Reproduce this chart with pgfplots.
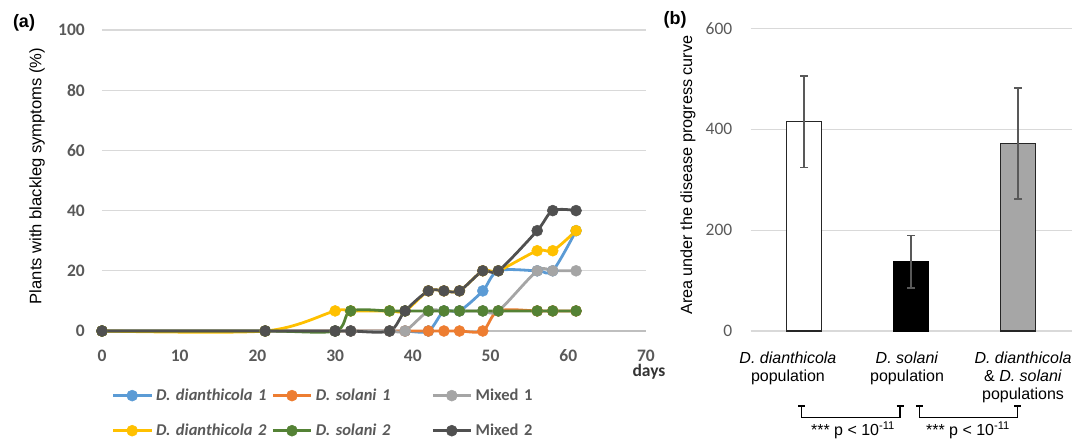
\documentclass[border=0pt]{standalone}
\usepackage{fontspec}
\setmainfont{Liberation Sans}
\newfontfamily\calibri{Carlito}
\usepackage{pgfplots}
\usepackage{pgfplotstable}
\pgfplotsset{compat=1.18}

\definecolor{cblue}{HTML}{5B9BD5}
\definecolor{corange}{HTML}{ED7D31}
\definecolor{cgray}{HTML}{A5A5A5}
\definecolor{cyellow}{HTML}{FFC000}
\definecolor{cgreen}{HTML}{548235}
\definecolor{cdark}{HTML}{505050}
\definecolor{ticktxt}{HTML}{595959}
\definecolor{gridc}{HTML}{D9D9D9}
\definecolor{zeroline}{HTML}{BFBFBF}
\definecolor{barg}{HTML}{A6A6A6}

\pgfplotstableread{
day dd1   ds1  m1    dd2   ds2  m2
0   0     0    0     0     0    0
21  0     0    0     0     0    0
30  0     0    0     6.67  0    0
32  0     0    0     6.67  6.67 0
37  0     0    0     6.67  6.67 0
39  0     0    0     6.67  6.67 6.67
42  0     0    6.67  13.33 6.67 13.33
44  6.67  0    6.67  13.33 6.67 13.33
46  6.67  0    6.67  13.33 6.67 13.33
49  13.33 0    6.67  20    6.67 20
51  20    6.67 6.67  20    6.67 20
56  20    6.67 20    26.67 6.67 33.33
58  20    6.67 20    26.67 6.67 40
61  33.33 6.67 20    33.33 6.67 40
}\curves

\pgfplotstableread{
x  y   err
0  415 91
}\aucA
\pgfplotstableread{
x  y   err
1  137 52
}\aucB
\pgfplotstableread{
x  y   err
2  372 110
}\aucC

\pgfplotsset{
  curve/.style={smooth, color=#1, line width=2.8pt, mark=*, mark size=5.5pt,
    mark options={line width=0.5pt, fill=#1, draw=#1}},
}
\tikzset{catlab/.style={anchor=north, align=center, inner sep=0pt, yshift=-20.3pt,
    font=\fontsize{16}{18.4}\selectfont}}

\begin{document}
\begin{tikzpicture}
\path[use as bounding box] (0pt,0pt) rectangle (1074pt,444pt);

% ---------------- panel (a)
\begin{axis}[
  at={(102pt,113pt)}, anchor=south west,
  scale only axis, width=544pt, height=301pt,
  xmin=0, xmax=70, ymin=0, ymax=100,
  xtick={0,10,...,70}, ytick={0,20,...,100},
  major tick length=0pt,
  axis line style={draw=none},
  ymajorgrids, grid style={color=gridc, line width=1.3pt},
  clip=false,
  /pgf/number format/assume math mode=true,
  xticklabel style={font=\calibri\bfseries\fontsize{17.5}{20}\selectfont, text=ticktxt, anchor=north, inner sep=0pt, yshift=-18.5pt},
  yticklabel style={font=\calibri\bfseries\fontsize{17.5}{20}\selectfont, text=ticktxt, anchor=east, inner sep=0pt, xshift=-17pt},
  ylabel={Plants with blackleg symptoms (\%)},
  ylabel style={at={(axis description cs:-0.1195,0.515)}, anchor=center, font=\fontsize{16.6}{19}\selectfont},
  legend columns=3,
  legend cell align=left,
  legend image code/.code={\draw[mark repeat=2, mark phase=2, #1] plot coordinates {(0pt,0pt) (19pt,0pt) (38pt,0pt)};},
  legend style={at={(axis description cs:0.018,-0.193)}, anchor=north west,
    draw=none, fill=none, inner sep=0pt, outer sep=0pt, row sep=22pt,
    font=\calibri\bfseries\fontsize{16.5}{20}\selectfont, text=ticktxt,
    nodes={inner sep=0pt, text width=112pt, align=left},
    /tikz/every odd column/.append style={column sep=3.5pt},
    /tikz/every even column/.append style={column sep=3.5pt}},
]
\draw[color=zeroline, line width=1.3pt] (axis cs:0,0) -- (axis cs:70,0);
\addplot[curve=cblue]   table[x=day, y=dd1] {\curves};
\addlegendentry{\mbox{\textit{D. dianthicola 1}}}
\addplot[curve=corange] table[x=day, y=ds1] {\curves};
\addlegendentry{\mbox{\textit{D. solani 1}}}
\addplot[curve=cgray]   table[x=day, y=m1]  {\curves};
\addlegendentry{\mbox{Mixed 1}}
\addplot[curve=cyellow] table[x=day, y=dd2] {\curves};
\addlegendentry{\mbox{\textit{D. dianthicola 2}}}
\addplot[curve=cgreen]  table[x=day, y=ds2] {\curves};
\addlegendentry{\mbox{\textit{D. solani 2}}}
\addplot[curve=cdark]   table[x=day, y=m2]  {\curves};
\addlegendentry{\mbox{Mixed 2}}
\end{axis}

% ---------------- panel (b)
\begin{axis}[
  at={(750.5pt,113pt)}, anchor=south west,
  scale only axis, width=321pt, height=302.5pt,
  xmin=-0.5, xmax=2.5, ymin=0, ymax=600,
  xtick=\empty, ytick={0,200,400,600},
  major tick length=0pt,
  axis line style={draw=none},
  ymajorgrids, grid style={color=gridc, line width=1.3pt},
  clip=false,
  /pgf/number format/assume math mode=true,
  yticklabel style={font=\calibri\fontsize{17.5}{20}\selectfont, text=ticktxt, anchor=east, inner sep=0pt, xshift=-18pt},
  ylabel={Area under the disease progress curve},
  ylabel style={at={(axis description cs:-0.1947,0.515)}, anchor=center, font=\fontsize{16.2}{19}\selectfont},
  bar width=35pt,
  errstyle/.style={error bars/.cd, y dir=both, y explicit,
    error bar style={color=ticktxt, line width=1.5pt},
    error mark options={rotate=90, mark size=4pt, line width=1.5pt, color=ticktxt}},
]
\addplot[ybar, bar shift=0pt, fill=white, draw=black!85, line width=1.4pt, errstyle]
  table[x=x, y=y, y error=err] {\aucA};
\addplot[ybar, bar shift=0pt, fill=black, draw=black, line width=1.4pt, errstyle]
  table[x=x, y=y, y error=err] {\aucB};
\addplot[ybar, bar shift=0pt, fill=barg, draw=black!85, line width=1.4pt, errstyle]
  table[x=x, y=y, y error=err] {\aucC};
\node[catlab] at (axis cs:-0.15,0) {\textit{D. dianthicola}\\population};
\node[catlab] at (axis cs:0.963,0) {\textit{D. solani}\\population};
\node[catlab] at (axis cs:2.047,0) {\textit{D. dianthicola}\\\& \textit{D. solani}\\populations};
\end{axis}

% panel letters and annotations
\node[font=\bfseries\fontsize{18}{20}\selectfont] at (24pt,421pt) {(a)};
\node[font=\bfseries\fontsize{18}{20}\selectfont] at (675pt,424pt) {(b)};
\node[anchor=base, inner sep=0pt, font=\calibri\bfseries\fontsize{17.5}{20}\selectfont, text=black!80] at (649pt,67pt) {days};

\begin{scope}[line width=1.3pt]
\draw (798.2pt,38pt) -- (805.2pt,38pt);
\draw (801.7pt,38pt) -- (801.7pt,26.7pt) -- (900pt,26.7pt) -- (900pt,38pt);
\draw (896.5pt,38pt) -- (903.5pt,38pt);
\draw (915.8pt,38pt) -- (922.8pt,38pt);
\draw (919.3pt,38pt) -- (919.3pt,26.7pt) -- (1017.7pt,26.7pt) -- (1017.7pt,38pt);
\draw (1014.2pt,38pt) -- (1021.2pt,38pt);
\end{scope}
\node[anchor=base, inner sep=0pt, font=\fontsize{16}{18}\selectfont] at (853pt,8pt) {*** p < 10\textsuperscript{-11}};
\node[anchor=base, inner sep=0pt, font=\fontsize{16}{18}\selectfont] at (968pt,8pt) {*** p < 10\textsuperscript{-11}};
\end{tikzpicture}
\end{document}
